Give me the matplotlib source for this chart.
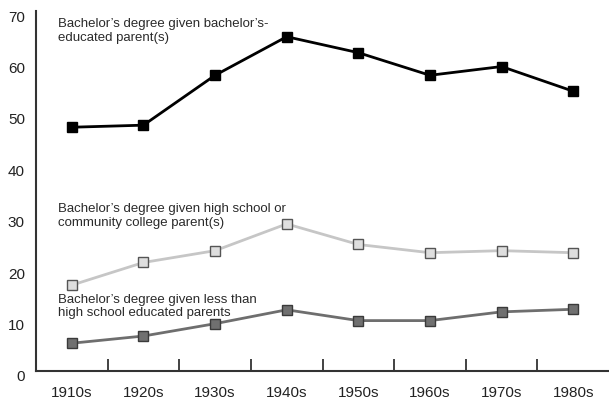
import matplotlib
matplotlib.use("Agg")
import matplotlib.pyplot as plt
import matplotlib.transforms as mtransforms

plt.rcParams['font.family'] = ['Liberation Sans', 'DejaVu Sans']

decades = ["1910s", "1920s", "1930s", "1940s", "1950s", "1960s", "1970s", "1980s"]
bachelor_parent = [47.4, 47.8, 57.5, 65.0, 61.9, 57.5, 59.2, 54.4]
highschool_parent = [16.7, 21.1, 23.4, 28.6, 24.6, 23.0, 23.4, 23.0]
less_than_hs_parent = [5.4, 6.8, 9.2, 11.9, 9.8, 9.8, 11.5, 12.0]
y_ticks = [0, 10, 20, 30, 40, 50, 60, 70]

fig = plt.figure(figsize=(6.09, 4.02), dpi=100)
ax = fig.add_axes([36/609, 30/402, 1 - 36/609, 360/402])

x = list(range(len(decades)))
ax.plot(x, bachelor_parent, color='black', lw=2.0, marker='s', ms=7,
        mfc='black', mec='black', zorder=3)
ax.plot(x, highschool_parent, color='#c6c6c6', lw=2.0, marker='s', ms=7,
        mfc='#dedede', mec='#555555', mew=1.0, zorder=3)
ax.plot(x, less_than_hs_parent, color='#6e6e6e', lw=2.0, marker='s', ms=7,
        mfc='#707070', mec='#3a3a3a', mew=1.0, zorder=3)

ax.set_xlim(-0.5, 7.5)
ax.set_ylim(0, 70)
ax.set_xticks(x)
ax.set_xticklabels(decades)
ax.set_xticks([i + 0.5 for i in range(7)], minor=True)
ax.set_yticks(y_ticks)
ax.set_yticklabels([str(v) for v in y_ticks])

ax.tick_params(axis='x', which='major', length=0, pad=10, labelsize=11, labelcolor='#222222')
ax.tick_params(axis='x', which='minor', direction='in', length=9, width=1.3, color='#333333')
ax.tick_params(axis='y', length=0, pad=8, labelsize=11, labelcolor='#222222')

offset = mtransforms.ScaledTranslation(0, -4/100, fig.dpi_scale_trans)
for lab in ax.get_yticklabels():
    lab.set_transform(lab.get_transform() + offset)

for s in ['top', 'right']:
    ax.spines[s].set_visible(False)
for s in ['left', 'bottom']:
    ax.spines[s].set_color('#333333')
    ax.spines[s].set_linewidth(1.5)

def ann(xpx, ypx, s):
    fig.text(xpx/609, 1 - ypx/402, s, fontsize=9.5, color='#2a2a2a', ha='left',
             va='center', linespacing=1.2)

ann(58, 31, "Bachelor’s degree given bachelor’s-\neducated parent(s)")
ann(58, 216, "Bachelor’s degree given high school or\ncommunity college parent(s)")
ann(58, 306.5, "Bachelor’s degree given less than\nhigh school educated parents")

fig.savefig("out.png", dpi=100)
